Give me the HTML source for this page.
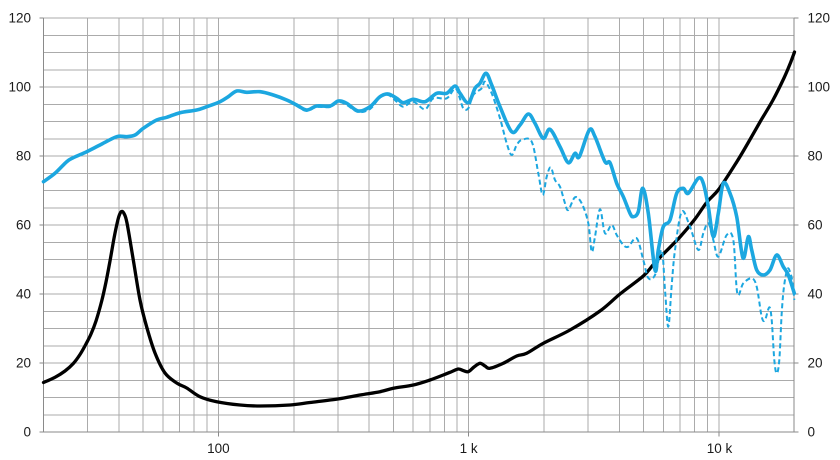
<!DOCTYPE html>
<html>
<head>
<meta charset="utf-8">
<style>
html,body{margin:0;padding:0;background:#fff;}
svg{display:block;}
text{font-family:"Liberation Sans",Arial,sans-serif;font-size:13.5px;fill:#1a1a1a;}
</style>
</head>
<body>
<svg id="chart" width="840" height="460" viewBox="0 0 840 460" xmlns="http://www.w3.org/2000/svg">
<rect x="0" y="0" width="840" height="460" fill="#fff"/>
<g stroke="#ababab" stroke-width="1" shape-rendering="crispEdges">
<line x1="43.5" x2="794.2" y1="414.75" y2="414.75"/>
<line x1="43.5" x2="794.2" y1="397.5" y2="397.5"/>
<line x1="43.5" x2="794.2" y1="380.25" y2="380.25"/>
<line x1="43.5" x2="794.2" y1="363" y2="363"/>
<line x1="43.5" x2="794.2" y1="345.75" y2="345.75"/>
<line x1="43.5" x2="794.2" y1="328.5" y2="328.5"/>
<line x1="43.5" x2="794.2" y1="311.25" y2="311.25"/>
<line x1="43.5" x2="794.2" y1="294" y2="294"/>
<line x1="43.5" x2="794.2" y1="276.75" y2="276.75"/>
<line x1="43.5" x2="794.2" y1="259.5" y2="259.5"/>
<line x1="43.5" x2="794.2" y1="242.25" y2="242.25"/>
<line x1="43.5" x2="794.2" y1="225" y2="225"/>
<line x1="43.5" x2="794.2" y1="207.75" y2="207.75"/>
<line x1="43.5" x2="794.2" y1="190.5" y2="190.5"/>
<line x1="43.5" x2="794.2" y1="173.25" y2="173.25"/>
<line x1="43.5" x2="794.2" y1="156" y2="156"/>
<line x1="43.5" x2="794.2" y1="138.75" y2="138.75"/>
<line x1="43.5" x2="794.2" y1="121.5" y2="121.5"/>
<line x1="43.5" x2="794.2" y1="104.25" y2="104.25"/>
<line x1="43.5" x2="794.2" y1="87" y2="87"/>
<line x1="43.5" x2="794.2" y1="69.75" y2="69.75"/>
<line x1="43.5" x2="794.2" y1="52.5" y2="52.5"/>
<line x1="43.5" x2="794.2" y1="35.25" y2="35.25"/>
<line x1="43.5" x2="794.2" y1="18" y2="18"/>
<line y1="18" y2="432" x1="87.6" x2="87.6"/>
<line y1="18" y2="432" x1="118.8" x2="118.8"/>
<line y1="18" y2="432" x1="143.1" x2="143.1"/>
<line y1="18" y2="432" x1="162.9" x2="162.9"/>
<line y1="18" y2="432" x1="179.7" x2="179.7"/>
<line y1="18" y2="432" x1="194.2" x2="194.2"/>
<line y1="18" y2="432" x1="207.0" x2="207.0"/>
<line y1="18" y2="432" x1="218.4" x2="218.4"/>
<line y1="18" y2="432" x1="293.8" x2="293.8"/>
<line y1="18" y2="432" x1="337.8" x2="337.8"/>
<line y1="18" y2="432" x1="369.1" x2="369.1"/>
<line y1="18" y2="432" x1="393.3" x2="393.3"/>
<line y1="18" y2="432" x1="413.1" x2="413.1"/>
<line y1="18" y2="432" x1="429.9" x2="429.9"/>
<line y1="18" y2="432" x1="444.4" x2="444.4"/>
<line y1="18" y2="432" x1="457.2" x2="457.2"/>
<line y1="18" y2="432" x1="468.65" x2="468.65"/>
<line y1="18" y2="432" x1="544.0" x2="544.0"/>
<line y1="18" y2="432" x1="588.05" x2="588.05"/>
<line y1="18" y2="432" x1="619.3" x2="619.3"/>
<line y1="18" y2="432" x1="643.6" x2="643.6"/>
<line y1="18" y2="432" x1="663.4" x2="663.4"/>
<line y1="18" y2="432" x1="680.1" x2="680.1"/>
<line y1="18" y2="432" x1="694.6" x2="694.6"/>
<line y1="18" y2="432" x1="707.4" x2="707.4"/>
<line y1="18" y2="432" x1="718.9" x2="718.9"/>
</g>
<g stroke="#8a8a8a" stroke-width="1" shape-rendering="crispEdges">
<line x1="43.5" x2="43.5" y1="18" y2="432"/>
<line x1="794.2" x2="794.2" y1="18" y2="432"/>
<line x1="43.5" x2="794.2" y1="432" y2="432"/>
<line x1="39.5" x2="43.5" y1="432" y2="432"/>
<line x1="39.5" x2="43.5" y1="363" y2="363"/>
<line x1="39.5" x2="43.5" y1="294" y2="294"/>
<line x1="39.5" x2="43.5" y1="225" y2="225"/>
<line x1="39.5" x2="43.5" y1="156" y2="156"/>
<line x1="39.5" x2="43.5" y1="87" y2="87"/>
<line x1="39.5" x2="43.5" y1="18" y2="18"/>
<line x1="794.2" x2="798.5" y1="432" y2="432"/>
<line x1="794.2" x2="798.5" y1="363" y2="363"/>
<line x1="794.2" x2="798.5" y1="294" y2="294"/>
<line x1="794.2" x2="798.5" y1="225" y2="225"/>
<line x1="794.2" x2="798.5" y1="156" y2="156"/>
<line x1="794.2" x2="798.5" y1="87" y2="87"/>
<line x1="794.2" x2="798.5" y1="18" y2="18"/>
<line x1="218.4" x2="218.4" y1="432" y2="436.5"/>
<line x1="468.65" x2="468.65" y1="432" y2="436.5"/>
<line x1="718.9" x2="718.9" y1="432" y2="436.5"/>
</g>
<g text-anchor="end">
<text x="31" y="436.7">0</text>
<text x="31" y="367.7">20</text>
<text x="31" y="298.7">40</text>
<text x="31" y="229.7">60</text>
<text x="31" y="160.7">80</text>
<text x="31" y="91.7">100</text>
<text x="31" y="22.7">120</text>
</g>
<g text-anchor="start">
<text x="807.5" y="436.7">0</text>
<text x="807.5" y="367.7">20</text>
<text x="807.5" y="298.7">40</text>
<text x="807.5" y="229.7">60</text>
<text x="807.5" y="160.7">80</text>
<text x="807.5" y="91.7">100</text>
<text x="807.5" y="22.7">120</text>
</g>
<g text-anchor="middle">
<text x="218.4" y="453">100</text>
<text x="468.65" y="453">1 k</text>
<text x="719.5" y="453">10 k</text>
</g>
<polyline class="smooth" fill="none" stroke="#000" stroke-width="3.3" stroke-linejoin="round" stroke-linecap="round"
points="43.5,382.5 55,377.3 65,371 73.3,363.5 80,354.5 86,344 91,334 96,321 101.7,301 106,282 110,261 113.5,241 116.5,226 119,216 121.5,211.5 124,213.5 127,223 133.3,260 140,300 146.7,327 155,353 165,373 176.7,383 186.7,388 200,396.7 216.7,401.7 240,405 260,406 290,405 310,402.5 337.8,399 360,395 380,391.7 393.3,388.3 413.3,385 430,380 443.3,375 452,371.5 458.3,369 463,370.5 468.3,371.7 474,367 480,363.3 485,366 490,368.3 503.3,363.3 516.7,356 526.7,353.3 543.3,343.3 570,330 600,311 620,294 643.3,276 653,265 663.3,254 680,237 695,219 707,202 719,189 736.7,162 748,143 760,122 773,100 784,78 790,64 794.5,52"/>
<polyline class="smooth" fill="none" stroke="#1ca7e0" stroke-width="3.6" stroke-linejoin="round" stroke-linecap="round"
points="43.5,181.7 55,173.3 66.7,161.7 73.3,157.7 86.7,151.7 100,145 116.7,136.7 126.7,136.7 135,135 143.3,128.3 156.7,120 166.7,117.3 180,112.7 196.7,110 206.7,106.7 220,101.7 228.3,96.7 236.7,91 246.7,92.3 260,91.7 273.3,95 286.7,100 296.7,105 306.7,110 316.7,106 330,106 338.3,101 346.7,103.3 358.3,111 370,106.7 380,96.7 388.3,94 396.7,98.3 403.3,102.7 413.3,99.3 425,101.7 436.7,93.3 446.7,93.3 455,86 460,93.3 468.3,102.7 475,88.3 480,83.3 486,73.3 491.7,85 500,106.7 511.7,131.7 520,125 528.3,114 535,123.3 543.3,138.3 550,129.3 560,146.7 568.3,162.7 575,153.3 579.3,156.7 589.3,130 595,136.7 605,161.7 610,162.7 616.7,183.3 623.3,196.7 630,213.3 633.3,216.7 638.3,211.7 642.7,188.3 648.3,213.3 655,270 658.3,250 663.3,226.7 670,220 676.7,193.3 683.3,188.3 688.3,193.3 698.3,178.3 703.3,183.3 708.3,206.7 713.3,236.7 718.3,213.3 723.3,183.3 730,193.3 736.7,216.7 743,258 748.3,236.7 751.7,250 756.7,270 763.3,275 770,270 776.7,255 783.3,266.7 788.3,275 794.3,293.3"/>
<polyline class="smooth" fill="none" stroke="#1ca7e0" stroke-width="2" stroke-dasharray="5,3" stroke-linejoin="round"
points="43.5,181.7 55,173.3 66.7,161.7 73.3,157.7 86.7,151.7 100,145 116.7,136.7 126.7,136.7 135,135 143.3,128.3 156.7,120 166.7,117.3 180,112.7 196.7,110 206.7,106.7 220,101.7 228.3,96.7 236.7,91 246.7,92.3 260,91.7 273.3,95 286.7,100 296.7,106 306.7,111 316.7,107 330,107 338.3,102 346.7,105 358.3,112 370,109 380,97.5 388.3,95 396.7,101.7 403.3,106.7 413.3,101.7 425,109.3 433.3,98.3 446.7,98.3 455,88.3 459.3,96.7 463.3,108.3 468.3,108.3 473.3,95 481.7,88.3 485,81.7 491.7,93.3 500,118.3 506.7,143.3 511.7,155 516.7,145 521.7,140 531.7,141.7 538.3,173.3 542.7,195 546.7,176.7 550.7,167.3 555,180 560,186.7 565,203.3 568.3,210 575,197.3 581.7,203.3 588.3,223.3 591.7,251.7 595,236.7 600,209.3 605,233.3 611.7,225 616.7,235 623.3,245 628.3,246.7 636.7,238.3 643.3,260 648.3,278 655,275 661.7,250 665,290 668.3,326.7 671.7,285 675,250 681.7,211.7 690,226.7 698.3,250 703.3,233.3 708.3,223.3 713.3,240 718.3,256.7 726.7,235 733.3,240 737.3,293.3 743.3,283.3 751.7,278.3 756.7,286.7 761.7,316.7 765,320 769.3,307.3 771.7,320 774.3,360 776.7,373.3 779.3,360 781.7,313.3 784,286.7 787.3,269.3 790,271.7 792.7,283.3 794.3,300"/>
</svg>
<script>
(function(){
  var NS="http://www.w3.org/2000/svg";
  var pls=document.querySelectorAll("polyline.smooth");
  for(var i=0;i<pls.length;i++){
    var pl=pls[i];
    var raw=pl.getAttribute("points").trim().split(/\s+/);
    var p=[];
    for(var j=0;j<raw.length;j++){var c=raw[j].split(",");p.push([parseFloat(c[0]),parseFloat(c[1])]);}
    var d="M"+p[0][0]+","+p[0][1];
    for(var k=0;k<p.length-1;k++){
      var p0=p[k>0?k-1:0],p1=p[k],p2=p[k+1],p3=p[k+2<p.length?k+2:p.length-1];
      var c1x=p1[0]+(p2[0]-p0[0])/6,c1y=p1[1]+(p2[1]-p0[1])/6;
      var c2x=p2[0]-(p3[0]-p1[0])/6,c2y=p2[1]-(p3[1]-p1[1])/6;
      d+=" C"+c1x.toFixed(2)+","+c1y.toFixed(2)+" "+c2x.toFixed(2)+","+c2y.toFixed(2)+" "+p2[0]+","+p2[1];
    }
    var path=document.createElementNS(NS,"path");
    var attrs=["fill","stroke","stroke-width","stroke-dasharray","stroke-linejoin","stroke-linecap"];
    for(var a=0;a<attrs.length;a++){var v=pl.getAttribute(attrs[a]);if(v!==null)path.setAttribute(attrs[a],v);}
    path.setAttribute("d",d);
    pl.parentNode.replaceChild(path,pl);
  }
})();
</script>
</body>
</html>
